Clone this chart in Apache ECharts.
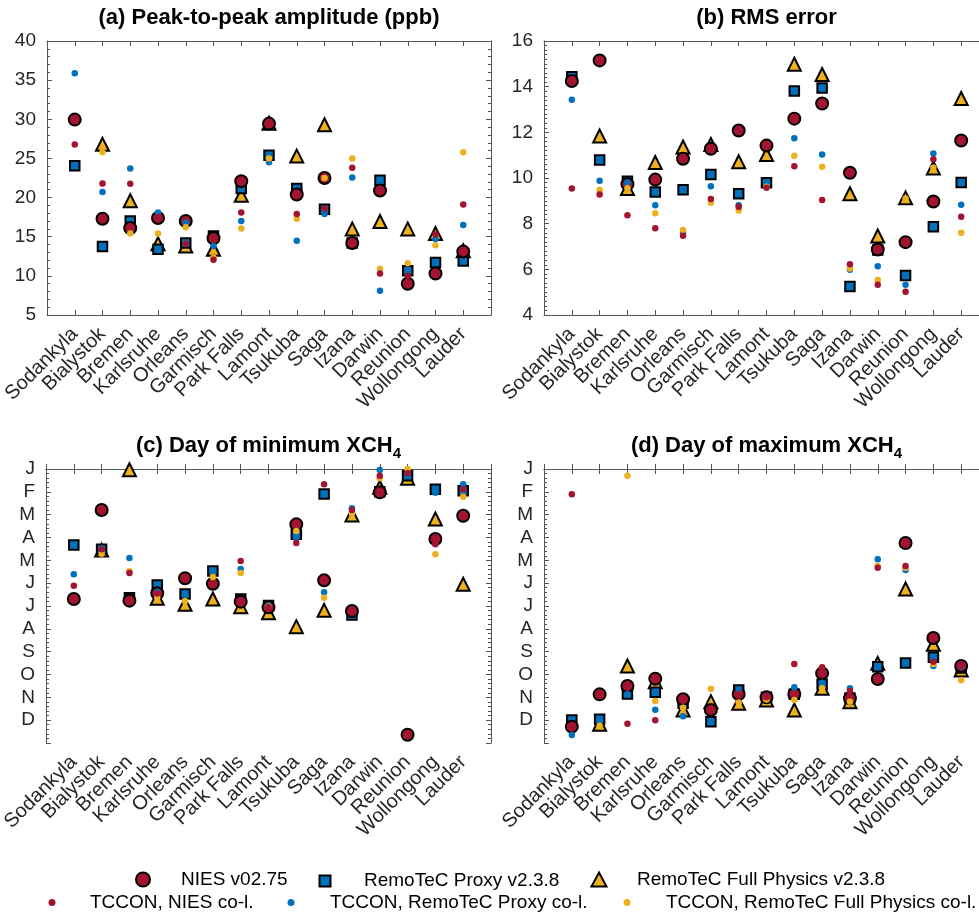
<!DOCTYPE html>
<html><head><meta charset="utf-8">
<script src="https://cdn.jsdelivr.net/npm/echarts@6/dist/echarts.min.js"></script>
<style>html,body{margin:0;padding:0;background:#fff}#c{width:979px;height:914px}</style>
</head><body><div id="c"></div><script>
const stations = ['Sodankyla','Bialystok','Bremen','Karlsruhe','Orleans','Garmisch','Park Falls','Lamont','Tsukuba','Saga','Izana','Darwin','Reunion','Wollongong','Lauder'];
const monthLabels = ['J','F','M','A','M','J','J','A','S','O','N','D'];

// (a) Peak-to-peak amplitude (ppb)
const ampNIES  = [29.96,17.3,16.1,17.4,17.0,14.8,22.1,29.45,20.4,22.5,14.2,20.9,9.0,10.3,13.1];
const ampProxy = [24.05,13.75,17.0,13.4,14.2,15.1,21.15,25.4,21.15,18.5,14.2,22.2,10.65,11.7,11.9];
const ampFP    = [null,26.8,19.6,14.1,13.8,13.4,20.3,29.5,25.3,29.3,16.0,16.95,16.0,15.4,13.2];
const ampTcNIES  = [26.77,21.8,21.75,17.5,14.1,12.05,18.1,29.3,17.9,18.6,23.8,10.3,10.0,15.3,19.1];
const ampTcProxy = [35.87,20.7,23.7,18.1,16.8,13.8,17.0,24.5,14.5,17.9,22.55,8.1,10.6,14.7,16.5];
const ampTcFP    = [null,25.8,15.4,15.4,16.2,12.3,16.05,25.0,17.3,22.5,25.0,10.9,11.6,13.9,25.8];

// (b) RMS error
const rmsNIES  = [14.25,15.15,9.73,9.93,10.84,11.28,12.08,11.42,12.6,13.26,10.23,6.87,7.19,8.97,11.64];
const rmsProxy = [14.43,10.79,9.86,9.39,9.48,10.15,9.31,9.79,13.81,13.94,5.25,6.85,5.73,7.86,9.8];
const rmsFP    = [null,11.84,9.54,10.68,11.36,11.47,10.71,11.03,14.98,14.53,9.31,7.46,9.13,10.44,13.48];
const rmsTcNIES  = [9.54,9.28,8.37,7.8,7.47,9.08,8.74,9.57,10.52,9.04,6.22,5.33,5.02,10.82,8.3];
const rmsTcProxy = [13.43,9.88,9.8,8.81,7.6,9.64,8.81,9.7,11.74,11.03,5.98,6.13,5.33,11.07,8.83];
const rmsTcFP    = [null,9.47,9.55,8.46,7.72,8.92,8.58,9.62,10.97,10.49,6.04,5.53,9.1,10.45,7.6];

// (c) Day of minimum XCH4 (day of year)
const minNIES  = [173.2,54.6,175.4,165.6,145.6,152.8,176.7,184.3,73.7,148.3,189.2,31.1,354,93.2,62.2];
const minProxy = [101.2,107,171.4,154.5,166.5,135.9,173.2,182,87,33.3,194.5,30.2,8.9,27.1,28.9];
const minFP    = [null,108,1,172.3,180.3,173.2,183.4,191.4,210,188.3,61.3,24.4,12.4,66.6,153.6];
const minTcNIES  = [155.4,107,138.5,166,146,153,122.5,184,98.6,20.4,54.6,8.9,5.8,100.3,27.1];
const minTcProxy = [140.3,106,118.6,163.9,166.5,136,133.2,182,92.4,164.3,52.4,1.3,8.9,31.5,20.4];
const minTcFP    = [null,112.8,136.3,171.4,175.8,143.9,138.5,183.4,82.6,171.4,59,12.4,0,113.7,36.9];

// (d) Day of maximum XCH4 (day of year)
const maxNIES  = [343.2,300.2,289.1,279.3,306.8,321,299.7,304.2,299.7,272.2,305.5,279.7,98.6,225.1,262.4];
const maxProxy = [334.4,333.5,299.7,297.5,312.2,336.6,294.4,304,300,286.8,305,263.3,258.4,250.9,265];
const maxFP    = [null,340.1,262.4,283.3,321,309.9,312.2,307.7,321,292.2,309.9,258.9,159.9,233.6,267.7];
const maxTcNIES  = [33.7,300,339.2,334.8,307,321,300,304,259.8,264.2,295.7,131.4,129.2,256.6,262];
const maxTcProxy = [354.3,333,300,320.6,329.5,336,294,304,290.8,284.7,292.2,120.3,134.5,262.4,263];
const maxTcFP    = [null,342,8.9,309.1,318,292.6,311,307,307.7,292,310,128.8,131.4,259.8,281.5];

const FONT = '"Liberation Sans", Arial, Helvetica, sans-serif';
const TXT = '#262626';
const AX = '#555555';
const RED = '#A2142F', BLUE = '#0072BD', YEL = '#EDB120';
const cats = [''].concat(stations, ['']);

const panels = [
  {title:'(a) Peak-to-peak amplitude (ppb)', sub:'', left:47, top:41, width:444, y:{min:5,max:40,interval:5,minor:5,inverse:false},
   d:[ampFP,ampProxy,ampNIES,ampTcProxy,ampTcFP,ampTcNIES]},
  {title:'(b) RMS error', sub:'', left:544, top:41, width:445, y:{min:4,max:16,interval:2,minor:10,inverse:false},
   d:[rmsFP,rmsProxy,rmsNIES,rmsTcProxy,rmsTcFP,rmsTcNIES]},
  {title:'(c) Day of minimum XCH', sub:'4', left:46, top:469, width:445, y:{min:0,max:365,interval:365/12,minor:5,inverse:true,month:true},
   d:[minFP,minProxy,minNIES,minTcProxy,minTcFP,minTcNIES]},
  {title:'(d) Day of maximum XCH', sub:'4', left:544, top:469, width:445, y:{min:0,max:365,interval:365/12,minor:5,inverse:true,month:true},
   d:[maxFP,maxProxy,maxNIES,maxTcProxy,maxTcFP,maxTcNIES]}
];
const H = 274;

const defs = [
  {name:'RemoTeC Full Physics v2.3.8', symbol:'triangle', size:13, color:YEL, bw:2},
  {name:'RemoTeC Proxy v2.3.8', symbol:'rect', size:9.5, color:BLUE, bw:2},
  {name:'NIES v02.75', symbol:'circle', size:12, color:RED, bw:2},
  {name:'TCCON, RemoTeC Proxy co-l.', symbol:'circle', size:6.5, color:BLUE, bw:0},
  {name:'TCCON, RemoTeC Full Physics co-l.', symbol:'circle', size:6.5, color:YEL, bw:0},
  {name:'TCCON, NIES co-l.', symbol:'circle', size:6.5, color:RED, bw:0}
];

const grid = [], xAxis = [], yAxis = [], series = [], title = [];
panels.forEach((p, k) => {
  grid.push({left:p.left, top:p.top, width:p.width, height:H, containLabel:false, outerBoundsMode:'none'});
  const xBase = {type:'category', data:cats, gridIndex:k, boundaryGap:false,
    axisLine:{lineStyle:{color:AX,width:1}}, axisTick:{inside:true,length:5,interval:0,lineStyle:{color:AX}},
    splitLine:{show:false}};
  xAxis.push(Object.assign({}, xBase, {position:'bottom',
    axisLabel:{interval:0, rotate:45, margin:16, fontSize:20, color:TXT, fontFamily:FONT}}));
  xAxis.push(Object.assign({}, xBase, {position:'top', axisLabel:{show:false}}));
  const yBase = {type:'value', gridIndex:k, min:p.y.min, max:p.y.max, interval:p.y.interval, inverse:p.y.inverse,
    axisLine:{show:true,lineStyle:{color:AX,width:1}},
    axisTick:{show:true,inside:true,length:5,lineStyle:{color:AX}},
    minorTick:{show:true,splitNumber:p.y.minor,length:3,lineStyle:{color:AX}},
    splitLine:{show:false}, minorSplitLine:{show:false}};
  yAxis.push(Object.assign({}, yBase, {position:'left',
    axisLabel:{margin:11, fontSize:19, color:TXT, fontFamily:FONT,
      formatter: p.y.month ? (v => { const i = Math.round(v/(365/12)); return i < 12 ? monthLabels[i] : ''; }) : (v => String(v))}}));
  yAxis.push(Object.assign({}, yBase, {position:'right', axisLabel:{show:false}}));
  defs.forEach((d, j) => {
    const arr = p.d[j];
    const data = [];
    arr.forEach((v, i) => { if (v != null) data.push([i+1, v]); });
    series.push({type:'scatter', name:d.name, xAxisIndex:2*k, yAxisIndex:2*k, data:data,
      symbol:d.symbol, symbolSize:d.size, clip:false, z:2+j,
      itemStyle:{color:d.color, borderColor:'#000', borderWidth:d.bw, opacity:1},
      emphasis:{disabled:true}});
  });
  title.push({
    text: p.sub ? '{m|' + p.title + '}{s|' + p.sub + '}' : '{m|' + p.title + '}',
    left: p.left + p.width/2, textAlign:'center', top: p.top - 38, padding:0,
    textStyle:{rich:{
      m:{fontSize:22, fontWeight:'bold', color:'#000', fontFamily:FONT, lineHeight:30},
      s:{fontSize:15, fontWeight:'bold', color:'#000', fontFamily:FONT, lineHeight:10, verticalAlign:'bottom'}
    }}
  });
});

function leg(name, left, top, w, h, padLeft) {
  return {data:[name], left:left, top:top, itemWidth:w, itemHeight:h, selectedMode:false, padding:0,
    textStyle:{fontSize:19, color:'#000', fontFamily:FONT, padding:[0,0,0,padLeft]}};
}

const chart = echarts.init(document.getElementById('c'), null, {renderer:'canvas'});
chart.setOption({
  animation:false,
  backgroundColor:'#fff',
  title: title,
  grid: grid, xAxis: xAxis, yAxis: yAxis, series: series,
  legend:[
    leg('NIES v02.75', 135, 870, 14, 14, 26),
    leg('RemoTeC Proxy v2.3.8', 318.5, 871.5, 11, 11, 28.5),
    leg('RemoTeC Full Physics v2.3.8', 590.5, 870, 15, 14, 25.5),
    leg('TCCON, NIES co-l.', 48.5, 893, 7, 7, 29.5),
    leg('TCCON, RemoTeC Proxy co-l.', 287.5, 893, 7, 7, 30.5),
    leg('TCCON, RemoTeC Full Physics co-l.', 623.5, 893, 7, 7, 30.5)
  ]
});
</script></body></html>
